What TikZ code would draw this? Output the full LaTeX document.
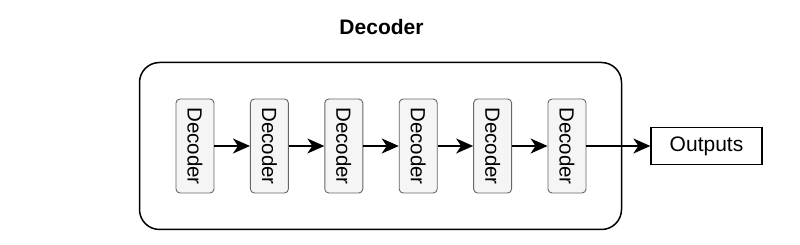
\documentclass[tikz,border=0pt]{standalone}
\usepackage{fontspec}
\setmainfont{Liberation Sans}
\usepackage{tikz}
\usetikzlibrary{arrows.meta, positioning}

\begin{document}
\begin{tikzpicture}[x=1pt, y=-1pt,
    blocco/.style={draw=black!60, fill=black!4, rounded corners=4pt, rotate=-90,
      minimum width=94pt, minimum height=38pt, inner sep=0pt, line width=0.9pt,
      font=\fontsize{20.5}{24}\selectfont},
    freccia/.style={-{Stealth[length=17pt, width=15pt, inset=5pt]}, line width=1.4pt}]
    \useasboundingbox (0,0) rectangle (800,245);

    % Contenitore
    \node[draw, line width=1.5pt, rounded corners=20pt, minimum width=482pt,
      minimum height=167pt] (contenitore) at (380.5,146) {};
    \node[font=\fontsize{21}{25}\selectfont\bfseries] (titolo) at (381.5,27) {Decoder};

    % Blocchi decoder
    \foreach \i in {1,...,6} {
        \node[blocco] (d\i) at ({195+74.4*(\i-1)},146) {Decoder};
    }

    % Uscita
    \node[draw, line width=1.3pt, minimum width=111pt, minimum height=37pt,
      inner sep=0pt, font=\fontsize{21}{25}\selectfont] (out) at (706.5,146) {Outputs};

    % Frecce
    \foreach \i [count=\j from 2] in {1,...,5} {
        \draw[freccia] (d\i) -- (d\j);
    }
    \draw[freccia] (d6) -- (out);
\end{tikzpicture}
\end{document}
